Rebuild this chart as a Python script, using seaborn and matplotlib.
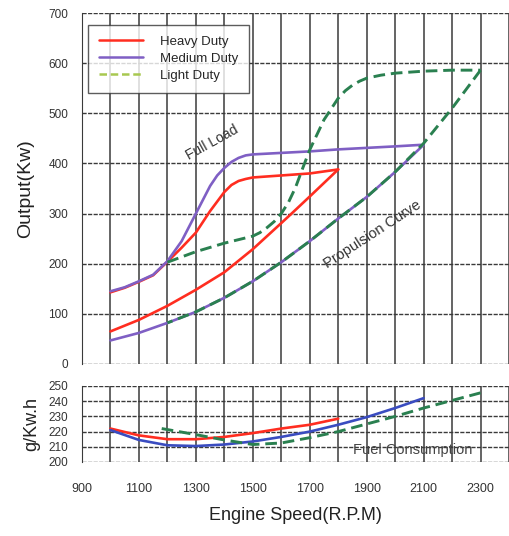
import matplotlib
matplotlib.use("Agg")
import matplotlib.pyplot as plt
import seaborn as sns
from matplotlib.lines import Line2D

# ---------------- data ----------------
heavy_full_rpm = [1000, 1050, 1100, 1150, 1200, 1250, 1300, 1350, 1400, 1425, 1450, 1475, 1500, 1600, 1700, 1800]
heavy_full_kw = [143, 152, 164, 177, 204, 232, 262, 305, 343, 357, 365, 369, 372, 376, 380, 388]
heavy_prop_rpm = [1800, 1700, 1640, 1600, 1500, 1400, 1300, 1200, 1100, 1000]
heavy_prop_kw = [388, 334, 302, 281, 229, 183, 148, 116, 88, 65]

medium_full_rpm = [1000, 1050, 1100, 1150, 1200, 1250, 1300, 1350, 1375, 1400, 1425, 1450, 1475, 1500, 1600, 1700, 1800, 1900, 2000, 2090]
medium_full_kw = [145, 153, 165, 178, 205, 245, 300, 355, 376, 391, 403, 411, 416, 418, 421, 424, 428, 431, 434, 437]
medium_prop_rpm = [2100, 2000, 1900, 1800, 1700, 1600, 1500, 1400, 1300, 1200, 1100, 1000]
medium_prop_kw = [437, 383, 333, 290, 245, 203, 165, 132, 104, 82, 62, 47]

light_full_rpm = [1200, 1300, 1400, 1500, 1525, 1550, 1575, 1600, 1625, 1650, 1675, 1700, 1750, 1800, 1825, 1850, 1875, 1900, 1950, 2000, 2100, 2200, 2300]
light_full_kw = [203, 224, 241, 255, 262, 272, 284, 300, 322, 352, 390, 427, 487, 530, 545, 556, 564, 570, 576, 580, 584, 586, 586]
light_prop_rpm = [2300, 2200, 2100, 2000, 1900, 1800, 1700, 1600, 1500, 1400, 1300, 1200]
light_prop_kw = [586, 510, 440, 383, 333, 290, 245, 203, 165, 132, 104, 82]

heavy_fc_rpm = [1000, 1100, 1200, 1300, 1400, 1500, 1600, 1700, 1800]
heavy_fc = [222, 217.5, 215, 215, 216.5, 219, 222, 224.5, 228.5]
medium_fc_rpm = [1000, 1100, 1200, 1300, 1400, 1500, 1600, 1700, 1800, 1900, 2000, 2100]
medium_fc = [221, 214.5, 211, 210.5, 211.5, 213.5, 216.5, 220, 224.5, 229.5, 235.5, 242]
light_fc_rpm = [1180, 1300, 1400, 1500, 1600, 1700, 1800, 1900, 2000, 2100, 2200, 2300]
light_fc = [222, 218, 214.5, 211.5, 212.5, 216, 220, 225, 230, 235.5, 240.5, 245.5]

series_names = ["Heavy Duty", "Medium Duty", "Light Duty"]
x_ticks = [900, 1100, 1300, 1500, 1700, 1900, 2100, 2300]
y_ticks_top = [0, 100, 200, 300, 400, 500, 600, 700]
y_ticks_bot = [200, 210, 220, 230, 240, 250]

# ---------------- style ----------------
sns.set_style("white")
plt.rcParams['font.family'] = ['Liberation Sans', 'DejaVu Sans']

RED = '#ff2d20'
PURPLE = '#7f5fc4'
GREEN = '#2a8050'
BLUE = '#3a4cc0'
GRID = '#3a3a3a'

fig = plt.figure(figsize=(5.09, 5.36), dpi=100)
ax = fig.add_axes([82/509, 1-364/536, 427/509, 351/536])
axb = fig.add_axes([82/509, 1-462/536, 427/509, 76/536])

lw = 1.9
dash = (4, 2)

# ---- top panel ----
sns.lineplot(x=heavy_full_rpm, y=heavy_full_kw, sort=False, color=RED, lw=lw, ax=ax)
sns.lineplot(x=heavy_prop_rpm, y=heavy_prop_kw, sort=False, color=RED, lw=lw, ax=ax)
sns.lineplot(x=medium_full_rpm, y=medium_full_kw, sort=False, color=PURPLE, lw=lw, ax=ax)
sns.lineplot(x=medium_prop_rpm, y=medium_prop_kw, sort=False, color=PURPLE, lw=lw, ax=ax)
ax.plot(light_full_rpm, light_full_kw, color=GREEN, lw=lw + 0.2, dashes=dash)
ax.plot(light_prop_rpm, light_prop_kw, color=GREEN, lw=lw + 0.2, dashes=dash)

ax.set_xlim(900, 2400)
ax.set_ylim(0, 700)
ax.set_xticks(range(900, 2401, 100))
ax.set_xticklabels([])
ax.set_yticks(y_ticks_top)
ax.set_yticklabels([str(v) for v in y_ticks_top], fontsize=8.5, color='#333333')
ax.tick_params(axis='x', length=0)
ax.tick_params(axis='y', length=4, color=GRID, pad=6)
ax.xaxis.grid(True, color=GRID, lw=1.1, ls='-')
ax.yaxis.grid(True, color=GRID, lw=1.0, ls=(0, (3, 1)))
for s in ['top', 'right', 'bottom']:
    ax.spines[s].set_visible(False)
ax.spines['left'].set_color(GRID)
ax.set_xlabel('')
ax.set_ylabel('Output(Kw)', fontsize=14, color='#222222', labelpad=10)

ax.text(1358, 442, 'Full Load', rotation=29, fontsize=10, ha='center', va='center', color='#333333')
ax.text(1920, 259, 'Propulsion Curve', rotation=33, fontsize=10.5, ha='center', va='center', color='#333333')

handles = [Line2D([], [], color=RED, lw=1.8),
           Line2D([], [], color=PURPLE, lw=1.8),
           Line2D([], [], color='#a8c850', lw=1.8, dashes=(3, 1.5))]
leg = ax.legend(handles, series_names, loc='upper left', bbox_to_anchor=(0.014, 0.967),
                fontsize=9.5, frameon=True, fancybox=False, edgecolor='#333333',
                handlelength=3.3, handletextpad=1.3, borderpad=0.85, labelspacing=0.35,
                borderaxespad=0)
leg.get_frame().set_linewidth(1.0)

# ---- bottom panel ----
sns.lineplot(x=heavy_fc_rpm, y=heavy_fc, sort=False, color=RED, lw=lw, ax=axb)
sns.lineplot(x=medium_fc_rpm, y=medium_fc, sort=False, color=BLUE, lw=lw, ax=axb)
axb.plot(light_fc_rpm, light_fc, color=GREEN, lw=lw + 0.2, dashes=dash)

axb.set_xlim(900, 2400)
axb.set_ylim(200, 250)
axb.set_xticks(range(900, 2401, 100), minor=True)
axb.set_xticks(x_ticks)
axb.set_xticklabels([str(v) for v in x_ticks], fontsize=9, color='#333333')
axb.set_yticks(y_ticks_bot)
axb.set_yticklabels([str(v) for v in y_ticks_bot], fontsize=8.5, color='#333333')
axb.tick_params(axis='x', which='both', length=0, pad=15)
axb.tick_params(axis='y', length=4, color=GRID, pad=6)
axb.xaxis.grid(True, which='both', color=GRID, lw=1.1, ls='-')
axb.yaxis.grid(True, color=GRID, lw=1.0, ls=(0, (3, 1)))
for s in ['top', 'right', 'bottom']:
    axb.spines[s].set_visible(False)
axb.spines['left'].set_color(GRID)
axb.set_ylabel('g/Kw.h', fontsize=13, color='#222222', labelpad=6)
axb.set_xlabel('Engine Speed(R.P.M)', fontsize=13, color='#222222', labelpad=9)
axb.text(2060, 208, 'Fuel Consumption', fontsize=10.5, ha='center', va='center', color='#444444')

fig.savefig('out.png', dpi=100)
